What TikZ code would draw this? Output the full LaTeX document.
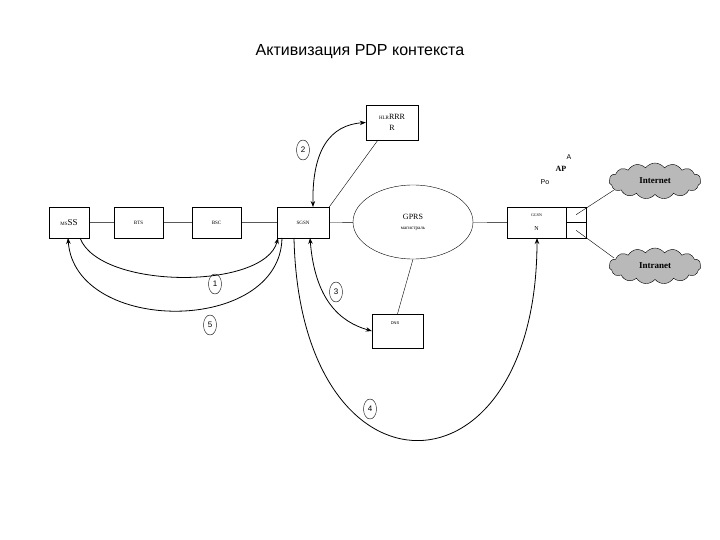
\documentclass[tikz,border=0pt]{standalone}
\usepackage{fontspec}
\setmainfont{Liberation Serif}
\newfontfamily\sans{Liberation Sans}
\usetikzlibrary{shapes.symbols,shapes.geometric,arrows.meta}
\begin{document}
\begin{tikzpicture}[x=1pt,y=-1pt,
 box/.style={draw,thin,minimum width=#1,minimum height=31pt,inner sep=0pt},
 box/.default=50pt,
 num/.style={draw,thin,ellipse,minimum width=13pt,minimum height=20pt,inner sep=0pt,font=\sans\fontsize{8}{9}\selectfont},
 cl/.style={cloud,cloud puffs=15,cloud puff arc=110,aspect=2.6,draw,fill=gray!55,minimum width=92pt,minimum height=36pt,inner sep=0pt,font=\bfseries\fontsize{9}{10}\selectfont},
 ar/.style={thick,-{Stealth[length=6pt]}},
 dar/.style={thick,{Stealth[length=6pt]}-{Stealth[length=6pt]}}]
\useasboundingbox (0,0) rectangle (720,540);
\node[font=\sans\fontsize{16}{18}\selectfont] (title) at (360,52) {Активизация PDP контекста};
\node[box=40pt] (ms) at (69,222.5) {\fontsize{5}{6}\selectfont MS\fontsize{9}{10}\selectfont SS};
\node[box=49pt,anchor=north] (bts) at (138.5,207) {\fontsize{5}{6}\selectfont BTS};
\node[box=49pt,anchor=north] (bsc) at (216.5,207) {\fontsize{5}{6}\selectfont BSC};
\node[box=52pt,anchor=north] (sgsn) at (303,207) {\fontsize{5}{6}\selectfont SGSN};
\node[draw,thin,ellipse,minimum width=120pt,minimum height=74pt,align=center] (gprs) at (413,222) {\fontsize{8}{9}\selectfont GPRS\\[-2pt]\fontsize{5}{6}\selectfont магистраль};
\node[box=59pt,align=center] (ggsn) at (536.5,222.5) {\fontsize{4}{5}\selectfont GGSN\\[2pt]\fontsize{6}{7}\selectfont N};
\node[draw,thin,minimum width=20pt,minimum height=15.5pt,inner sep=0pt] (p1) at (576,214.75) {};
\node[draw,thin,minimum width=20pt,minimum height=15.5pt,inner sep=0pt] (p2) at (576,230.25) {};
\node[draw,thin,minimum width=52pt,minimum height=35pt,align=center,inner sep=0pt] (hlr) at (392,122.5) {\fontsize{5}{6}\selectfont HLR\fontsize{8}{9}\selectfont RRR\\[-1pt]\fontsize{8}{9}\selectfont R};
\node[draw,thin,minimum width=51pt,minimum height=34pt,inner sep=0pt] (dns) at (397.5,331) {};
\node[font=\sans\fontsize{4}{5}\selectfont] (dnst) at (395,323) {DNS};
\node[cl] (inet) at (655,181) {Internet};
\node[cl] (intra) at (655,266) {Intranet};
\node[font=\sans\fontsize{7}{8}\selectfont] (a) at (569,157) {A};
\node[font=\fontsize{8}{9}\selectfont\bfseries] (ap) at (561,169) {AP};
\node[font=\sans\fontsize{7}{8}\selectfont] (po) at (545,182) {Po};
\node[num] (n2) at (303,150) {2};
\node[num] (n1) at (215,284) {1};
\node[num] (n3) at (336,292) {3};
\node[num] (n5) at (210,325) {5};
\node[num] (n4) at (370,409) {4};
\draw[thin] (ms) -- (bts) (bts) -- (bsc) (bsc) -- (sgsn) (sgsn) -- (gprs) (gprs) -- (ggsn);
\coordinate (hb) at (378,140);
\draw[thin] (hb) -- (sgsn.north east);
\draw[thin] (dns.north) -- (gprs.south);
\coordinate (ic) at (614,190);
\coordinate (jc) at (614,258);
\draw[thin] (p1.center) -- (ic);
\draw[thin] (p2.center) -- (jc);
\draw[dar] (313,207) .. controls (312,150) and (330,125) .. (hlr.west);
\draw[ar] (80,238) .. controls (100,290) and (265,290) .. (278,238);
\draw[ar] (282,238) .. controls (280,335) and (75,335) .. (68,238);
\draw[dar] (310,238) .. controls (315,300) and (340,322) .. (dns.west);
\draw[ar] (294,238) .. controls (300,510) and (537,505) .. (537,238);
\end{tikzpicture}
\end{document}
